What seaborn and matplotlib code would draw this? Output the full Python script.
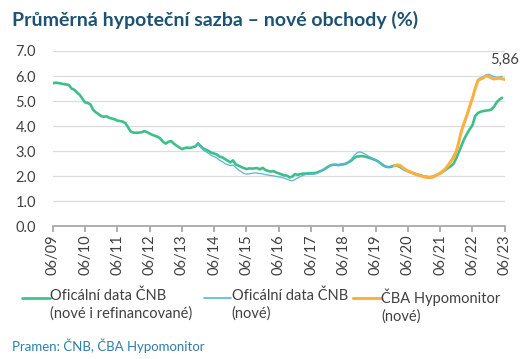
import numpy as np
import pandas as pd
import seaborn as sns
import matplotlib.pyplot as plt
from matplotlib.lines import Line2D

# monthly values, index 0 = 06/2009
green_vals = [
    5.71, 5.73, 5.72, 5.70, 5.68, 5.66, 5.64, 5.50, 5.45, 5.35, 5.25, 5.10,
    4.95, 4.92, 4.87, 4.65, 4.55, 4.48, 4.40, 4.37, 4.39, 4.33, 4.30, 4.27,
    4.22, 4.20, 4.18, 4.12, 3.95, 3.78, 3.74, 3.73, 3.74, 3.75, 3.80, 3.76,
    3.70, 3.65, 3.61, 3.57, 3.50, 3.37, 3.30, 3.37, 3.40, 3.30, 3.22, 3.15,
    3.08, 3.12, 3.14, 3.12, 3.16, 3.18, 3.31, 3.20, 3.10, 3.05, 3.00, 2.93,
    2.90, 2.86, 2.78, 2.75, 2.68, 2.62, 2.55, 2.63, 2.47, 2.42, 2.37, 2.32,
    2.28, 2.31, 2.30, 2.31, 2.32, 2.27, 2.33, 2.25, 2.21, 2.18, 2.20, 2.15,
    2.11, 2.07, 2.03, 2.02, 1.95, 1.98, 2.08, 2.05, 2.08, 2.10, 2.10, 2.11,
    2.11, 2.12, 2.13, 2.18, 2.22, 2.28, 2.35, 2.42, 2.45, 2.46, 2.44, 2.46,
    2.47, 2.50, 2.56, 2.62, 2.72, 2.78, 2.79, 2.80, 2.78, 2.75, 2.72, 2.68,
    2.64, 2.58, 2.50, 2.42, 2.37, 2.36, 2.38, 2.43, 2.42, 2.37, 2.30, 2.24,
    2.20, 2.16, 2.12, 2.08, 2.05, 2.02, 1.99, 1.97, 1.96, 1.97, 2.01, 2.06,
    2.11, 2.18, 2.25, 2.33, 2.40, 2.50, 2.72, 2.98, 3.25, 3.50, 3.70, 3.88,
    4.04, 4.40, 4.52, 4.57, 4.60, 4.62, 4.63, 4.66, 4.77, 4.95, 5.06, 5.13,
]
green_start = 0

# new loans only, from 12/2013
blue_vals = [
    3.28, 3.15, 3.03, 2.97, 2.90, 2.82,
    2.78, 2.72, 2.64, 2.58, 2.50, 2.46, 2.42, 2.45, 2.35, 2.25, 2.18, 2.11,
    2.08, 2.09, 2.11, 2.13, 2.12, 2.10, 2.09, 2.06, 2.04, 2.03, 2.01, 1.99,
    1.97, 1.95, 1.92, 1.88, 1.84, 1.81, 1.86, 1.92, 1.98, 2.03, 2.06, 2.07,
    2.08, 2.08, 2.10, 2.15, 2.22, 2.30, 2.37, 2.42, 2.45, 2.46, 2.44, 2.47,
    2.47, 2.50, 2.58, 2.68, 2.82, 2.92, 2.97, 2.94, 2.88, 2.82, 2.76, 2.70,
    2.64, 2.57, 2.48, 2.40, 2.36, 2.36, 2.40, 2.44, 2.42, 2.36, 2.28, 2.22,
    2.18, 2.13, 2.09, 2.05, 2.02, 1.99, 1.97, 1.95, 1.94, 1.96, 2.01, 2.07,
    2.13, 2.22, 2.32, 2.44, 2.62, 2.85, 3.05, 3.45, 3.90, 4.20, 4.50, 4.85,
    5.18, 5.55, 5.87, 5.93, 5.97, 6.05, 6.07, 6.02, 5.98, 5.95, 5.96, 5.98,
]
blue_start = 54

# CBA Hypomonitor, from 01/2020
orange_vals = [
    2.41, 2.45, 2.43, 2.35, 2.27,
    2.21, 2.16, 2.11, 2.07, 2.03, 2.00, 1.97, 1.95, 1.94, 1.95, 2.00, 2.06,
    2.12, 2.20, 2.30, 2.44, 2.60, 2.75, 2.98, 3.40, 3.84, 4.15, 4.45, 4.80,
    5.11, 5.50, 5.81, 5.88, 5.92, 6.01, 5.98, 5.92, 5.88, 5.90, 5.91, 5.89, 5.86,
]
orange_start = 127

tick_labels = ["06/%02d" % y for y in range(9, 24)]
y_ticks = [0, 1, 2, 3, 4, 5, 6, 7]

green_c = "#3dbf8a"
blue_c = "#5ab4dc"
orange_c = "#fbb040"
title_c = "#1d5272"

green = pd.DataFrame({"m": np.arange(len(green_vals)) + green_start, "v": green_vals})
blue = pd.DataFrame({"m": np.arange(len(blue_vals)) + blue_start, "v": blue_vals})
orange = pd.DataFrame({"m": np.arange(len(orange_vals)) + orange_start, "v": orange_vals})

sns.set_theme(style="white")
plt.rcParams["font.family"] = ["Lato", "DejaVu Sans"]

fig = plt.figure(figsize=(5.22, 3.59), dpi=100)
ax = fig.add_axes([0.101, 0.370, 0.866, 0.488])

sns.lineplot(data=green, x="m", y="v", ax=ax, color=green_c, linewidth=1.9)
sns.lineplot(data=blue, x="m", y="v", ax=ax, color=blue_c, linewidth=0.9)
sns.lineplot(data=orange, x="m", y="v", ax=ax, color=orange_c, linewidth=2.2)

ax.set_xlim(0, 168)
ax.set_ylim(0, 7)
ax.set_xticks(np.arange(0, 169, 12))
ax.set_xticklabels(tick_labels, rotation=90, fontsize=10.5, color="#404040")
ax.set_yticks(y_ticks)
ax.set_yticklabels(["%.1f" % v for v in y_ticks], fontsize=10.5, color="#404040")
ax.set_xlabel("")
ax.set_ylabel("")
ax.grid(axis="y", color="#dcdcdc", linewidth=0.9)
ax.set_axisbelow(True)
for s in ["top", "right", "left"]:
    ax.spines[s].set_visible(False)
ax.spines["bottom"].set_color("#a6a6a6")
ax.tick_params(axis="x", bottom=True, length=4, color="#a6a6a6", pad=2)
ax.tick_params(axis="y", left=False, pad=6)

last = orange.iloc[-1]
ax.annotate("5,86", (last["m"], last["v"]), xytext=(0, 9), textcoords="offset points",
            ha="center", va="bottom", fontsize=10.5, color="#404040")

fig.text(0.023, 0.945, "Průměrná hypoteční sazba – nové obchody (%)", fontsize=14,
         fontweight="bold", color=title_c, va="center")

# legend
legend_items = [
    (0.042, green_c, 1.9, "Oficální data ČNB\n(nové i refinancované)"),
    (0.390, blue_c, 1.2, "Oficální data ČNB\n(nové)"),
    (0.676, orange_c, 2.2, "ČBA Hypomonitor\n(nové)"),
]
for x0, c, lw, lab in legend_items:
    fig.add_artist(Line2D([x0, x0 + 0.053], [0.171, 0.171], color=c, linewidth=lw,
                          transform=fig.transFigure))
    fig.text(x0 + 0.054, 0.171, lab, fontsize=10.5, color="#404040", va="top",
             ha="left", linespacing=1.25, transform=fig.transFigure).set_y(0.195)

fig.text(0.023, 0.038, "Pramen: ČNB, ČBA Hypomonitor", fontsize=9.5, color="#2d7fa8", va="center")

fig.savefig("out.png", dpi=100)
